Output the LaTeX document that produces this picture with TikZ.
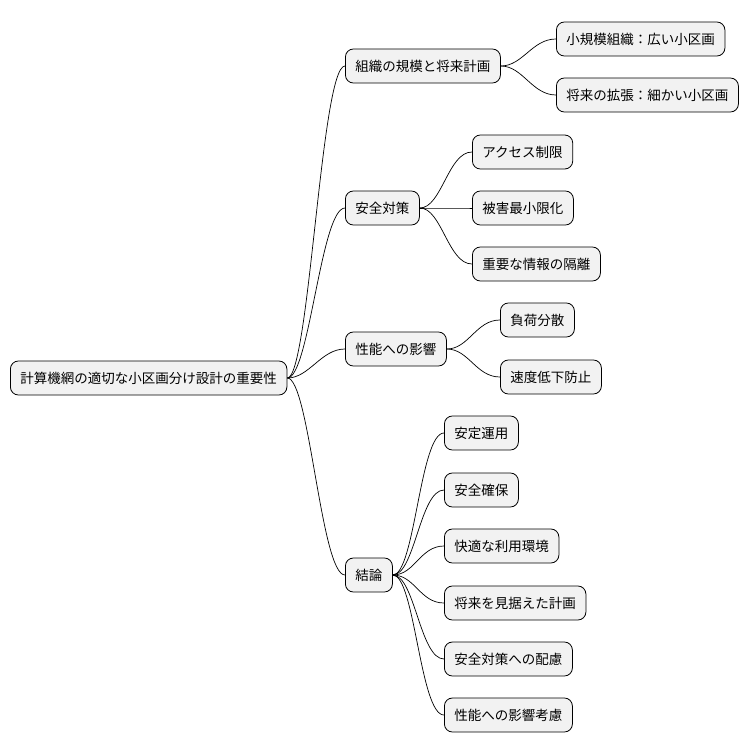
\documentclass[tikz,border=0pt]{standalone}
\usepackage{fontspec}
\newfontfamily\cjk{Noto Sans CJK JP}
\begin{document}
\begin{tikzpicture}[x=1pt,y=-1pt,
  box/.style={draw=black,fill=gray!10,rounded corners=8pt,minimum height=34pt,inner xsep=10pt,anchor=west,font=\cjk\fontsize{13.5}{16}\selectfont,line width=0.8pt},
  link/.style={draw=black,line width=0.7pt}]
\useasboundingbox (0,0) rectangle (754,752);
\node[box] (r) at (10,378) {計算機網の適切な小区画分け設計の重要性};
\node[box] (a) at (345,66) {組織の規模と将来計画};
\node[box] (b) at (345,208) {安全対策};
\node[box] (c) at (345,349) {性能への影響};
\node[box] (d) at (345,575) {結論};
\node[box] (a1) at (556,39) {小規模組織：広い小区画};
\node[box] (a2) at (556,95) {将来の拡張：細かい小区画};
\node[box] (b1) at (472,152) {アクセス制限};
\node[box] (b2) at (472,208) {被害最小限化};
\node[box] (b3) at (472,264) {重要な情報の隔離};
\node[box] (c1) at (500,320) {負荷分散};
\node[box] (c2) at (500,377) {速度低下防止};
\node[box] (d1) at (444,433) {安定運用};
\node[box] (d2) at (444,490) {安全確保};
\node[box] (d3) at (444,546) {快適な利用環境};
\node[box] (d4) at (444,603) {将来を見据えた計画};
\node[box] (d5) at (444,659) {安全対策への配慮};
\node[box] (d6) at (444,715) {性能への影響考慮};
\foreach \p/\c in {r/a,r/b,r/c,r/d,a/a1,a/a2,b/b1,b/b2,b/b3,c/c1,c/c2,d/d1,d/d2,d/d3,d/d4,d/d5,d/d6}{
  \draw[link] (\p.east) .. controls ([xshift=22pt]\p.east) and ([xshift=-24pt]\c.west) .. (\c.west);
}
\end{tikzpicture}
\end{document}
